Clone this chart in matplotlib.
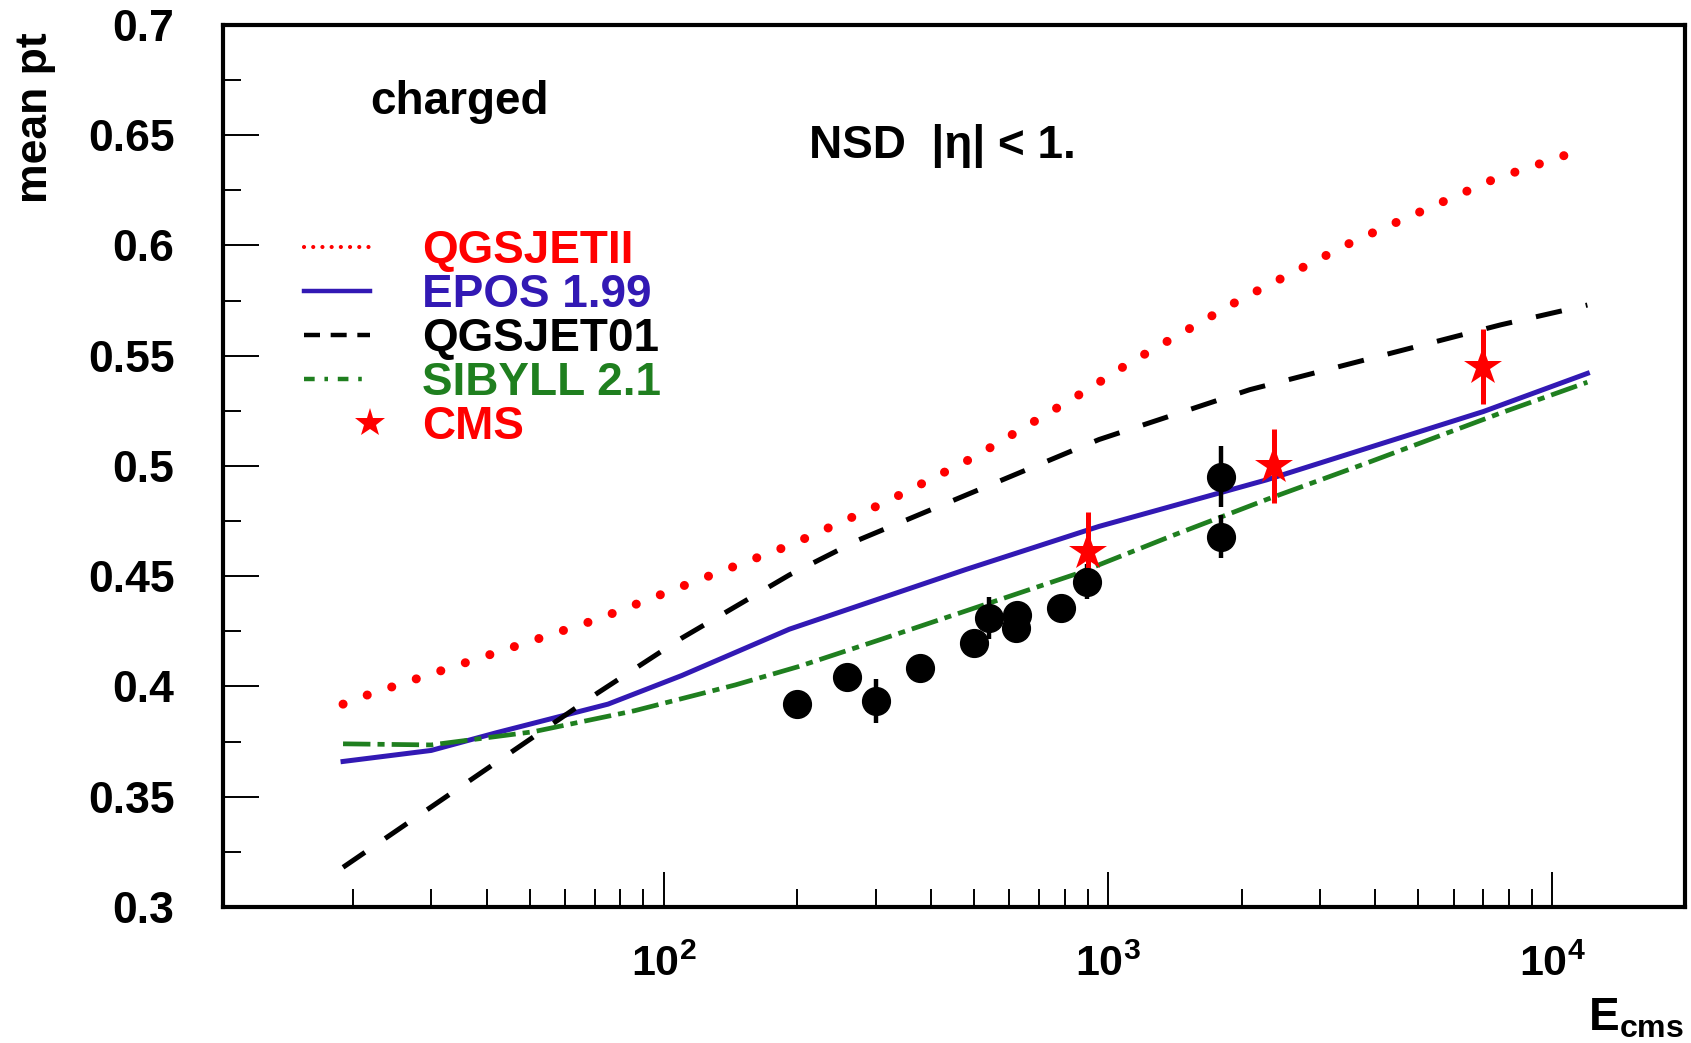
import matplotlib
matplotlib.use('Agg')
import matplotlib.pyplot as plt
from matplotlib.lines import Line2D
from matplotlib.legend_handler import HandlerLine2D
from matplotlib.ticker import LogLocator, MultipleLocator, NullFormatter

plt.rcParams['font.family'] = ['Liberation Sans', 'DejaVu Sans']
plt.rcParams['font.weight'] = 'bold'
plt.rcParams['mathtext.fontset'] = 'custom'
plt.rcParams['mathtext.rm'] = 'Liberation Sans'
plt.rcParams['mathtext.bf'] = 'Liberation Sans:bold'
plt.rcParams['mathtext.it'] = 'Liberation Sans:italic'
plt.rcParams['mathtext.default'] = 'bf'

# model curves, sqrt(s) [GeV] vs <pt> [GeV/c]
e_qgsjetii = [19, 20, 71, 117, 192, 313, 503, 890, 1117, 1995, 3580, 7380, 10900, 12000]
pt_qgsjetii = [0.392, 0.394, 0.4305, 0.4475, 0.464, 0.4832, 0.5043, 0.534, 0.5467,
               0.5757, 0.602, 0.630, 0.6415, 0.644]

e_epos = [19, 30, 42, 75, 110, 192, 478, 955, 2275, 7000, 12000]
pt_epos = [0.366, 0.371, 0.379, 0.392, 0.405, 0.426, 0.453, 0.4726, 0.4937, 0.5247, 0.542]

e_qgsjet01 = [19, 71, 110, 192, 275, 955, 2085, 7650, 12000]
pt_qgsjet01 = [0.318, 0.397, 0.422, 0.4506, 0.4665, 0.512, 0.5346, 0.564, 0.573]

e_sibyll = [19, 30, 51, 86, 145, 201, 310, 847, 1400, 2290, 3820, 7650, 12000]
pt_sibyll = [0.374, 0.3735, 0.3795, 0.389, 0.4007, 0.409, 0.4215, 0.451, 0.4685, 0.485,
             0.5013, 0.524, 0.538]

# older measurements (black) and CMS (red stars)
e_data = [200, 259, 300, 378, 499, 540, 620, 625, 783, 896, 1800, 1800]
pt_data = [0.392, 0.4045, 0.3935, 0.4083, 0.4196, 0.431, 0.4264, 0.4325, 0.4355, 0.4476,
           0.4952, 0.468]
err_data = [0.003, 0.003, 0.010, 0.003, 0.003, 0.0095, 0.003, 0.003, 0.003, 0.008,
            0.0138, 0.0098]

e_cms = [900, 2360, 7000]
pt_cms = [0.461, 0.500, 0.545]
err_cms = [0.018, 0.017, 0.017]

labels = ['QGSJETII', 'EPOS 1.99', 'QGSJET01', 'SIBYLL 2.1', 'CMS']
RED = '#ff0000'
BLUE = '#3219b4'
GREEN = '#1f7f1f'

W, H = 1691, 1043
fig = plt.figure(figsize=(W / 100, H / 100), dpi=100)
ax = fig.add_axes([223 / W, 1 - 907 / H, (1685 - 223) / W, (907 - 25) / H])

ax.plot(e_qgsjetii, pt_qgsjetii, color=RED, lw=6.5, ls=(0, (0.01, 2.85)),
        dash_capstyle='round')
ax.plot(e_epos, pt_epos, color=BLUE, lw=3.6)
ax.plot(e_qgsjet01, pt_qgsjet01, color='black', lw=3.6, ls=(0, (5.3, 4.9)))
ax.plot(e_sibyll, pt_sibyll, color=GREEN, lw=3.4, ls=(0, (5.8, 1.5, 1.5, 1.5)))

ax.errorbar(e_data, pt_data, yerr=err_data, fmt='o', color='black', ms=20,
            elinewidth=3.2, capsize=0)
ax.errorbar(e_cms, pt_cms, yerr=err_cms, fmt='*', color=RED, ms=29,
            elinewidth=3.6, capsize=0, mew=0)

ax.set_xscale('log')
ax.set_xlim(10.2, 19900)
ax.set_ylim(0.3, 0.7)

ax.xaxis.set_major_locator(LogLocator(base=10))
ax.xaxis.set_minor_locator(LogLocator(base=10, subs=range(2, 10)))
ax.xaxis.set_minor_formatter(NullFormatter())
ax.yaxis.set_major_locator(MultipleLocator(0.05))
ax.yaxis.set_minor_locator(MultipleLocator(0.025))
ax.yaxis.set_major_formatter(plt.FuncFormatter(lambda v, p: f'{v:g}'))

ax.tick_params(axis='both', which='both', direction='in', top=False, right=False,
               width=1.4, color='black')
ax.tick_params(axis='y', which='major', length=26, pad=35, labelsize=32)
ax.tick_params(axis='y', which='minor', length=13)
ax.tick_params(axis='x', which='major', length=25, pad=27, labelsize=31)
ax.tick_params(axis='x', which='minor', length=13)
for s in ax.spines.values():
    s.set_linewidth(3)

fig.text(36 / W, 1 - 32 / H, 'mean pt', rotation=90, ha='center', va='top', size=32)
fig.text(1684 / W, 2 / H, r'$E_{cms}$', ha='right', va='bottom', size=33)
fig.text(370 / W, 1 - 114 / H, 'charged', ha='left', va='baseline', size=33)
fig.text(809 / W, 1 - 158 / H, 'NSD  |η| < 1.', ha='left', va='baseline', size=33)


class RightMarker(HandlerLine2D):
    def create_artists(self, *args, **kwargs):
        arts = super().create_artists(*args, **kwargs)
        for a in arts:
            a.set_markevery([2])
        return arts


handles = [
    Line2D([], [], color=RED, lw=3, ls=(0, (0.01, 2.2)), dash_capstyle='round'),
    Line2D([], [], color=BLUE, lw=3.2),
    Line2D([], [], color='black', lw=3.2, ls=(0, (3.6, 2.4))),
    Line2D([], [], color=GREEN, lw=3.2, ls=(0, (2.4, 2.2, 0.8, 2.2))),
    Line2D([], [], color=RED, marker='*', ms=22, ls='none', mew=0),
]
leg = fig.legend(handles, labels, loc='upper left',
                 bbox_to_anchor=(304 / W, 1 - 229 / H), bbox_transform=fig.transFigure,
                 frameon=False, fontsize=33, handlelength=1.44, handletextpad=1.14,
                 labelspacing=0.0, borderpad=0, borderaxespad=0,
                 labelcolor=[RED, BLUE, 'black', GREEN, RED],
                 handler_map={handles[4]: RightMarker(numpoints=1)})

fig.savefig('out.png', dpi=100)
